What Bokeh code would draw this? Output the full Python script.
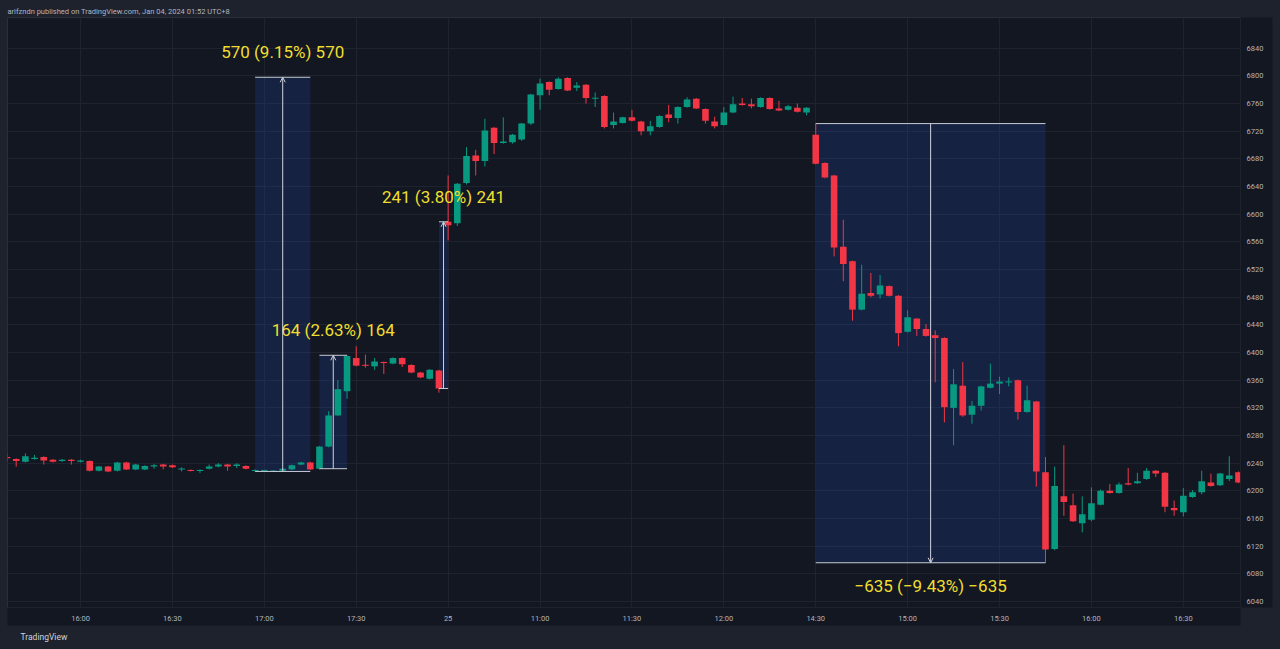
from bokeh.plotting import figure
from bokeh.models import ColumnDataSource, FixedTicker, Arrow, OpenHead, Range1d, Title
from bokeh.core.properties import value
from bokeh.embed import file_html
from bokeh.resources import INLINE

# ---------------- data (3-minute candles, MYR) ----------------
opens = [6249, 6246, 6242, 6246, 6249, 6245, 6243, 6245, 6242, 6243,
         6229, 6235, 6229, 6241, 6231, 6231, 6235, 6238, 6237, 6231,
         6230, 6229, 6232, 6235, 6238, 6236, 6236, 6229, 6229, 6228,
         6229, 6231, 6238, 6241, 6232, 6264, 6309, 6344, 6392, 6382,
         6380, 6386, 6384, 6392, 6382, 6371, 6362, 6374,
         6589, 6587, 6645, 6685, 6677, 6725, 6703, 6704, 6708, 6731,
         6772, 6791, 6781, 6797, 6783, 6787, 6767, 6771, 6729, 6732,
         6740, 6734, 6720, 6726, 6744, 6739, 6755, 6767, 6752, 6734,
         6729, 6747, 6760, 6759, 6755, 6768, 6753, 6751, 6754, 6747,
         6715, 6674, 6656, 6553, 6532, 6462, 6486, 6484, 6496, 6482,
         6430, 6449, 6434, 6425, 6421, 6320, 6352, 6310, 6323, 6349,
         6355, 6357, 6360, 6314, 6329, 6227, 6116, 6192, 6179, 6153,
         6158, 6180, 6200, 6197, 6211, 6211, 6217, 6229, 6226, 6175,
         6169, 6191, 6198, 6212, 6208, 6217, 6227]
highs = [6254, 6247, 6254, 6252, 6250, 6246, 6246, 6246, 6245, 6244,
         6236, 6236, 6242, 6242, 6239, 6237, 6239, 6239, 6238, 6234,
         6231, 6231, 6238, 6240, 6239, 6240, 6237, 6231, 6230, 6230,
         6233, 6238, 6242, 6242, 6265, 6315, 6360, 6396, 6409, 6397,
         6392, 6387, 6393, 6393, 6383, 6372, 6376, 6375,
         6656, 6645, 6697, 6693, 6738, 6726, 6740, 6716, 6732, 6774,
         6796, 6792, 6798, 6798, 6791, 6788, 6776, 6772, 6747, 6741,
         6751, 6735, 6735, 6743, 6758, 6756, 6769, 6768, 6753, 6741,
         6755, 6770, 6768, 6767, 6769, 6769, 6764, 6758, 6760, 6755,
         6731, 6675, 6657, 6592, 6533, 6527, 6515, 6512, 6497, 6483,
         6461, 6450, 6441, 6432, 6422, 6376, 6386, 6330, 6352, 6384,
         6365, 6364, 6361, 6352, 6330, 6249, 6235, 6266, 6196, 6192,
         6205, 6202, 6210, 6212, 6233, 6226, 6233, 6230, 6227, 6186,
         6204, 6201, 6229, 6225, 6226, 6250, 6228]
lows = [6243, 6235, 6241, 6245, 6238, 6241, 6242, 6238, 6241, 6228,
        6228, 6227, 6228, 6230, 6230, 6230, 6232, 6231, 6233, 6228,
        6228, 6226, 6231, 6234, 6229, 6233, 6231, 6228, 6228, 6228,
        6228, 6230, 6237, 6230, 6231, 6263, 6308, 6333, 6380, 6378,
        6375, 6369, 6383, 6379, 6370, 6363, 6361, 6342,
        6562, 6583, 6643, 6656, 6669, 6687, 6702, 6702, 6706, 6729,
        6751, 6772, 6780, 6778, 6778, 6760, 6755, 6724, 6724, 6731,
        6734, 6714, 6714, 6725, 6733, 6731, 6754, 6752, 6731, 6724,
        6728, 6746, 6757, 6753, 6754, 6751, 6749, 6750, 6747, 6743,
        6672, 6652, 6539, 6503, 6446, 6461, 6480, 6478, 6481, 6409,
        6429, 6424, 6423, 6357, 6299, 6266, 6307, 6297, 6316, 6348,
        6340, 6351, 6303, 6313, 6206, 6096, 6114, 6164, 6155, 6140,
        6156, 6179, 6196, 6196, 6208, 6210, 6216, 6220, 6169, 6164,
        6163, 6190, 6195, 6206, 6207, 6214, 6211]
closes = [6247, 6243, 6250, 6248, 6244, 6242, 6245, 6243, 6244, 6229,
          6235, 6228, 6241, 6231, 6238, 6236, 6237, 6235, 6234, 6232,
          6229, 6230, 6235, 6238, 6235, 6238, 6232, 6230, 6230, 6229,
          6232, 6237, 6241, 6231, 6264, 6309, 6347, 6395, 6381, 6381,
          6387, 6385, 6392, 6383, 6371, 6364, 6375, 6348,
          6584, 6644, 6684, 6677, 6721, 6703, 6705, 6715, 6731, 6773,
          6789, 6780, 6796, 6779, 6786, 6768, 6768, 6726, 6734, 6740,
          6735, 6720, 6727, 6742, 6739, 6755, 6766, 6753, 6735, 6727,
          6747, 6759, 6758, 6756, 6768, 6752, 6750, 6756, 6748, 6754,
          6673, 6653, 6552, 6528, 6462, 6485, 6482, 6497, 6482, 6428,
          6451, 6434, 6424, 6421, 6321, 6354, 6309, 6323, 6351, 6355,
          6358, 6358, 6314, 6331, 6228, 6115, 6207, 6184, 6156, 6166,
          6182, 6200, 6197, 6209, 6209, 6214, 6229, 6225, 6177, 6172,
          6193, 6198, 6214, 6207, 6225, 6222, 6212]

time_tick_index = [8, 18, 28, 38, 48, 58, 68, 78, 88, 98, 108, 118, 128]
time_tick_labels = ["16:00", "16:30", "17:00", "17:30", "25", "11:00", "11:30",
                    "12:00", "14:30", "15:00", "15:30", "16:00", "16:30"]
price_ticks = [6040, 6080, 6120, 6160, 6200, 6240, 6280, 6320, 6360, 6400, 6440,
               6480, 6520, 6560, 6600, 6640, 6680, 6720, 6760, 6800, 6840]

# price-range drawings
range_left = [27, 34, 47, 88]
range_right = [33, 37, 48, 113]
range_from = [6228, 6232, 6348, 6731]
range_to = [6798, 6396, 6589, 6096]
range_labels = ["570 (9.15%) 570", "164 (2.63%) 164", "241 (3.80%) 241",
                "\u2212635 (\u22129.43%) \u2212635"]

header_text = "arifzndn published on TradingView.com, Jan 04, 2024 01:52 UTC+8"
footer_text = "TradingView"

# ---------------- styles ----------------
PANE = "#131722"
FRAME = "#1e222d"
UP = "#089981"
DOWN = "#f23645"
GRID = "#1f2330"
AXIS_TXT = "#b2b5be"
YELLOW = "#f0de2e"
FONT = "Roboto"

n = len(opens)
idx = list(range(n))
colors = [UP if c >= o else DOWN for o, c in zip(opens, closes)]
body_top, body_bot = [], []
for o, c in zip(opens, closes):
    t, b = max(o, c), min(o, c)
    if t - b < 1.5:
        m = (t + b) / 2.0
        t, b = m + 0.75, m - 0.75
    body_top.append(t)
    body_bot.append(b)

candles = ColumnDataSource(dict(x=idx, high=highs, low=lows, top=body_top,
                                bottom=body_bot, color=colors))

p = figure(width=1280, height=649,
           x_range=Range1d(0.054, 134.22), y_range=Range1d(6031.3, 6884.4),
           output_backend="svg", toolbar_location=None, y_axis_location="right",
           min_border_left=7, min_border_right=40, min_border_top=17, min_border_bottom=42,
           background_fill_color=PANE, border_fill_color=FRAME,
           outline_line_color="#2a2e39")

# axes
p.xaxis.ticker = FixedTicker(ticks=time_tick_index)
p.xaxis.major_label_overrides = {t: l for t, l in zip(time_tick_index, time_tick_labels)}
p.yaxis.ticker = FixedTicker(ticks=price_ticks)
for ax in (p.xaxis[0], p.yaxis[0]):
    ax.axis_line_color = None
    ax.major_tick_line_color = None
    ax.minor_tick_line_color = None
    ax.major_tick_out = 0
    ax.major_tick_in = 0
    ax.major_label_text_color = AXIS_TXT
    ax.major_label_text_font = FONT
    ax.major_label_text_font_size = "7.5px"
    try:
        ax.background_fill_color = PANE
    except Exception:
        pass
p.xaxis.major_label_standoff = 6
p.yaxis.major_label_standoff = 6
# an invisible axis label only pads the dark price-scale strip
p.yaxis.axis_label = "\u00a0"
p.yaxis.axis_label_text_color = PANE
p.yaxis.axis_label_text_font_size = "3px"
p.yaxis.axis_label_standoff = 0

p.xgrid.grid_line_color = GRID
p.ygrid.grid_line_color = GRID

# header and footer
p.add_layout(Title(text=header_text, align="left", text_font=FONT, text_font_size="7.5px",
                   text_font_style="normal", text_color=AXIS_TXT, standoff=4), "above")
p.add_layout(Title(text=footer_text, align="left", offset=13, text_font=FONT,
                   text_font_size="8.5px", text_font_style="normal", text_color="#d1d4dc",
                   standoff=9), "below")

# range rectangles
rng = ColumnDataSource(dict(
    left=range_left, right=range_right,
    top=[max(a, b) for a, b in zip(range_from, range_to)],
    bottom=[min(a, b) for a, b in zip(range_from, range_to)],
    y0=range_from, y1=range_to,
    xm=[(a + b) / 2.0 for a, b in zip(range_left, range_right)],
    label=range_labels,
    ly=range_to,
    loff=[-25 if b > a else 23 for a, b in zip(range_from, range_to)],
))
p.quad(left="left", right="right", top="top", bottom="bottom", source=rng,
       fill_color="#2962ff", fill_alpha=0.15, line_color=None)

# candles
p.segment(x0="x", y0="high", x1="x", y1="low", source=candles, line_color="color", line_width=1)
p.vbar(x="x", width=0.72, top="top", bottom="bottom", source=candles,
       fill_color="color", line_color=None)

# range lines, arrows and labels
p.segment(x0="left", y0="top", x1="right", y1="top", source=rng, line_color="#c7cbd3", line_width=1)
p.segment(x0="left", y0="bottom", x1="right", y1="bottom", source=rng, line_color="#c7cbd3", line_width=1)
p.add_layout(Arrow(x_start="xm", y_start="y0", x_end="xm", y_end="y1", source=rng,
                   line_color="#d1d4dc", line_width=1,
                   end=OpenHead(size=5, line_color="#d1d4dc", line_width=1)))
p.text(x="xm", y="ly", text="label", source=rng, y_offset="loff",
       text_align="center", text_baseline="middle", text_color=YELLOW,
       text_font=value(FONT), text_font_size="17px")

html = file_html(p, INLINE, title="MYR chart")
html = html.replace("<head>", "<head>\n<style>html, body { background: #1e222d; }</style>", 1)
open("out.html", "w").write(html)
